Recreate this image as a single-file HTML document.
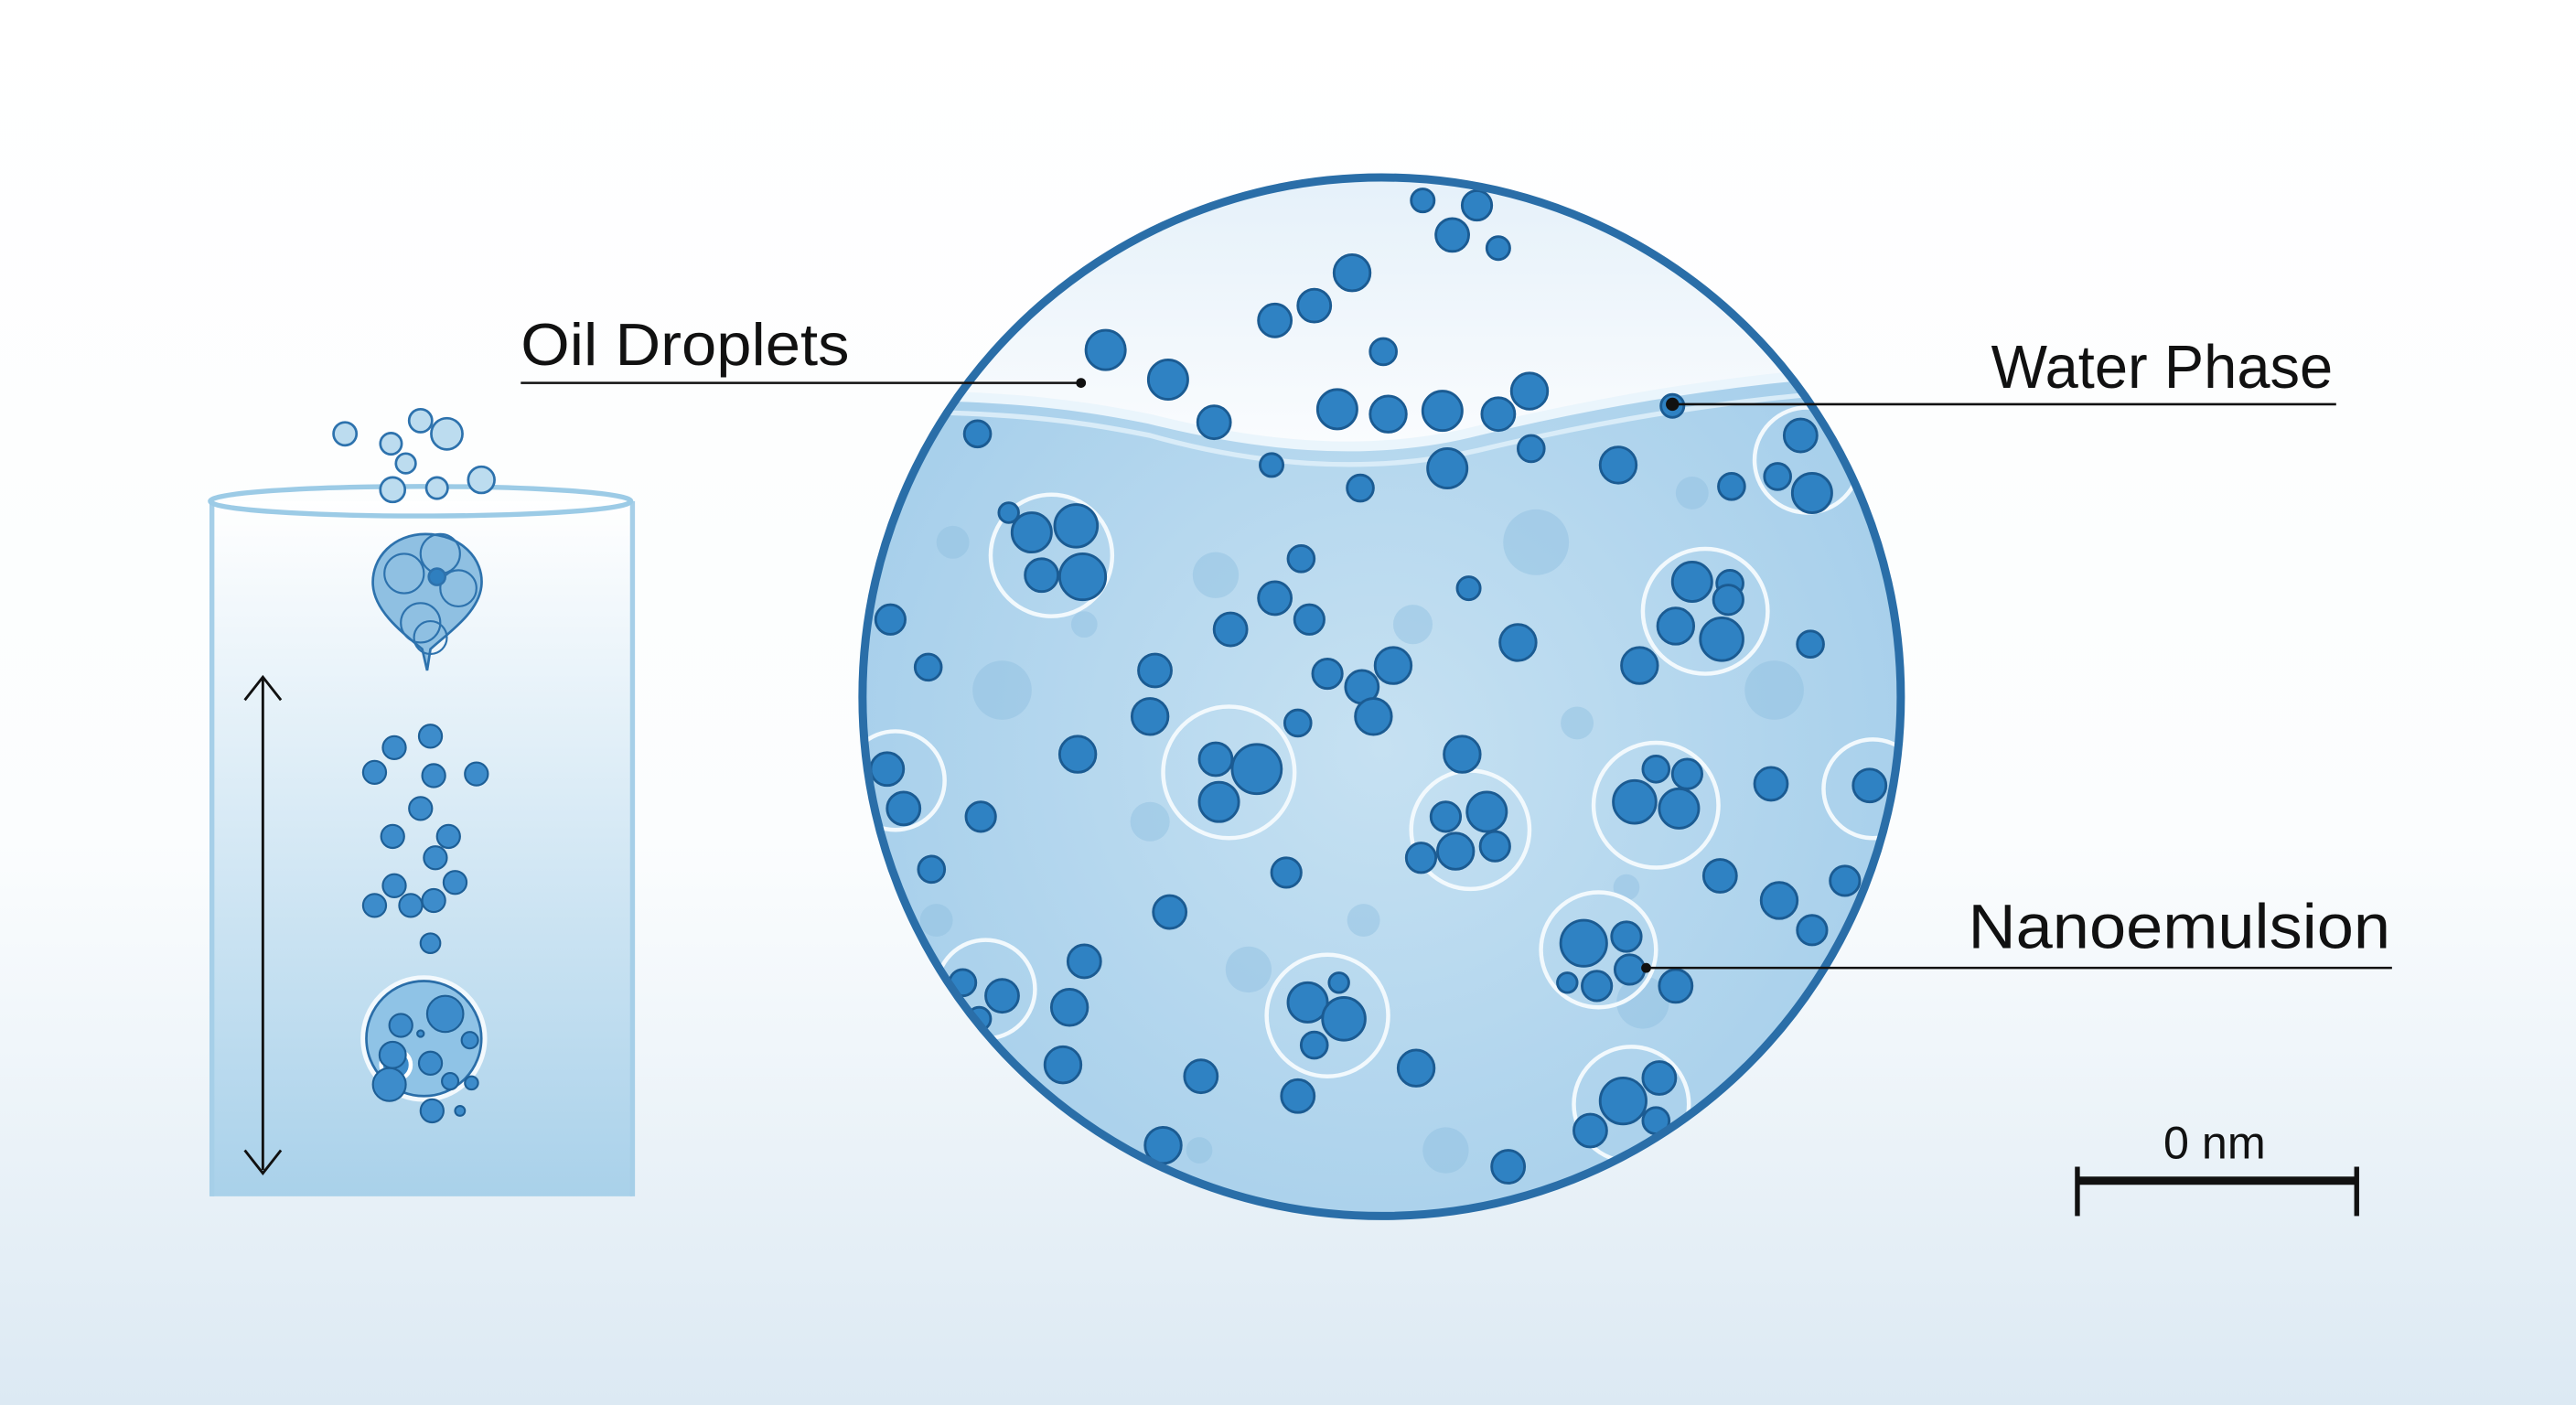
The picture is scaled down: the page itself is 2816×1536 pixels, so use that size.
<!DOCTYPE html>
<html><head><meta charset="utf-8">
<style>html,body{margin:0;padding:0;width:2816px;height:1536px;overflow:hidden;background:#fff}svg{display:block}</style>
</head><body>
<svg width="2816" height="1536" viewBox="0 0 1568 855" preserveAspectRatio="none" xmlns="http://www.w3.org/2000/svg">
<defs>
<linearGradient id="bg" x1="0" y1="0" x2="0" y2="1">
<stop offset="0" stop-color="#ffffff"/><stop offset="0.6" stop-color="#fbfdfe"/><stop offset="1" stop-color="#dce9f3"/></linearGradient>
<linearGradient id="cyl" x1="0" y1="0" x2="0" y2="1">
<stop offset="0" stop-color="#ffffff"/><stop offset="1" stop-color="#a9d1ea"/></linearGradient>
<radialGradient id="water" cx="0.5" cy="0.55" r="0.6">
<stop offset="0" stop-color="#c6e1f2"/><stop offset="1" stop-color="#a3cdea"/></radialGradient>
<linearGradient id="top" x1="0" y1="0" x2="0" y2="1">
<stop offset="0" stop-color="#e4f0f9"/><stop offset="1" stop-color="#fafcfe"/></linearGradient>
<clipPath id="cc"><circle cx="841" cy="424" r="316"/></clipPath>
</defs>
<rect width="1568" height="855" fill="url(#bg)"/>

<!-- cylinder -->
<rect x="128" y="305" width="257" height="423" fill="url(#cyl)"/>
<line x1="129" y1="305" x2="129" y2="728" stroke="#a6cfe8" stroke-width="3"/>
<line x1="385" y1="305" x2="385" y2="728" stroke="#a6cfe8" stroke-width="3"/>
<ellipse cx="256" cy="305" rx="128" ry="9" fill="none" stroke="#9ccbe6" stroke-width="3"/>
<line x1="160" y1="412" x2="160" y2="712" stroke="#111" stroke-width="1.6"/>
<polyline points="149,426 160,412 171,426" fill="none" stroke="#111" stroke-width="1.6"/>
<polyline points="149,700 160,714 171,700" fill="none" stroke="#111" stroke-width="1.6"/>
<g fill="#bcdcef" stroke="#2d72ad" stroke-width="1.5">
<circle cx="210" cy="264" r="7"/><circle cx="238" cy="270" r="6.5"/><circle cx="247" cy="282" r="6"/><circle cx="256" cy="256" r="7"/><circle cx="272" cy="264" r="9.5"/><circle cx="266" cy="297" r="6.5"/><circle cx="239" cy="298" r="7.5"/><circle cx="293" cy="292" r="8"/>
<path d="M259,325 C280,325 295,340 293,357 C291,373 273,385 262,395 L260,408 L257,395 C245,385 228,372 227,356 C226,339 240,325 259,325 Z" fill="#8fc0e2"/>
<g fill="none" stroke-width="1.2"><circle cx="246" cy="349" r="12"/><circle cx="268" cy="337" r="12"/><circle cx="279" cy="358" r="11"/><circle cx="256" cy="379" r="12"/><circle cx="262" cy="388" r="10"/></g><circle cx="266" cy="351" r="5" fill="#2f7fbf"/>
</g>
<circle cx="258" cy="632" r="37" fill="#8fc3e6" stroke="#f3f9fd" stroke-width="3"/>
<circle cx="258" cy="632" r="35" fill="none" stroke="#2b6ea8" stroke-width="1.5"/>
<g stroke="#1e5f96" stroke-width="1.2" fill="#3d8ccb">
<circle cx="241" cy="648" r="9" stroke="#fff" stroke-width="2.5"/>
<circle cx="262" cy="448" r="7"/><circle cx="240" cy="455" r="7"/><circle cx="290" cy="471" r="7"/><circle cx="228" cy="470" r="7"/><circle cx="264" cy="472" r="7"/><circle cx="256" cy="492" r="7"/><circle cx="239" cy="509" r="7"/><circle cx="273" cy="509" r="7"/><circle cx="265" cy="522" r="7"/><circle cx="240" cy="539" r="7"/><circle cx="277" cy="537" r="7"/><circle cx="228" cy="551" r="7"/><circle cx="250" cy="551" r="7"/><circle cx="264" cy="548" r="7"/><circle cx="262" cy="574" r="6"/>
<circle cx="244" cy="624" r="7"/><circle cx="271" cy="617" r="11"/><circle cx="239" cy="642" r="8"/><circle cx="262" cy="647" r="7"/><circle cx="237" cy="660" r="10"/><circle cx="263" cy="676" r="7"/><circle cx="286" cy="633" r="5"/><circle cx="287" cy="659" r="4"/><circle cx="274" cy="658" r="5"/><circle cx="280" cy="676" r="3"/><circle cx="256" cy="629" r="2"/></g>

<!-- big circle -->
<circle cx="841" cy="424" r="316" fill="url(#water)"/>
<g clip-path="url(#cc)">
<path d="M500,100 L1200,100 L1200,225 C1110,222 1000,238 900,262 C830,280 760,270 700,255 C650,245 610,240 500,240 Z" fill="url(#top)"/>
<path d="M500,240 C610,240 650,245 700,255 C760,270 830,280 900,262 C1000,238 1110,222 1200,225" fill="none" stroke="#eaf5fc" stroke-width="6"/>
<path d="M500,250 C610,250 650,255 700,265 C760,282 830,290 900,274 C1000,250 1110,234 1200,237" fill="none" stroke="#d9ecf8" stroke-width="3"/>
<g fill="#8fbfe0" opacity="0.45">
<circle cx="610" cy="420" r="18"/><circle cx="740" cy="350" r="14"/><circle cx="700" cy="500" r="12"/><circle cx="935" cy="330" r="20"/><circle cx="1000" cy="610" r="16"/><circle cx="760" cy="590" r="14"/><circle cx="1080" cy="420" r="18"/><circle cx="880" cy="700" r="14"/><circle cx="620" cy="680" r="16"/><circle cx="960" cy="440" r="10"/><circle cx="830" cy="560" r="10"/><circle cx="570" cy="560" r="10"/><circle cx="1120" cy="620" r="14"/><circle cx="990" cy="540" r="8"/><circle cx="860" cy="380" r="12"/><circle cx="660" cy="380" r="8"/><circle cx="730" cy="700" r="8"/><circle cx="1030" cy="300" r="10"/><circle cx="580" cy="330" r="10"/></g>
<g fill="none" stroke="#f2f9fd" stroke-width="2.5">
<circle cx="640" cy="338" r="37"/><circle cx="1038" cy="372" r="38"/><circle cx="748" cy="470" r="40"/><circle cx="895" cy="505" r="36"/><circle cx="1008" cy="490" r="38"/><circle cx="973" cy="578" r="35"/><circle cx="808" cy="618" r="37"/><circle cx="993" cy="672" r="35"/><circle cx="545" cy="475" r="30"/><circle cx="600" cy="602" r="30"/><circle cx="1100" cy="280" r="32"/><circle cx="1140" cy="480" r="30"/></g>
<g fill="#2f82c3" stroke="#1b5b92" stroke-width="1.6" style="paint-order:normal">
<g id="drops">
<circle cx="866" cy="122" r="7"/><circle cx="899" cy="125" r="9"/><circle cx="884" cy="143" r="10"/><circle cx="912" cy="151" r="7"/><circle cx="823" cy="166" r="11"/><circle cx="800" cy="186" r="10"/><circle cx="776" cy="195" r="10"/><circle cx="842" cy="214" r="8"/><circle cx="673" cy="213" r="12"/><circle cx="711" cy="231" r="12"/><circle cx="739" cy="257" r="10"/><circle cx="814" cy="249" r="12"/><circle cx="845" cy="252" r="11"/><circle cx="878" cy="250" r="12"/><circle cx="912" cy="252" r="10"/><circle cx="931" cy="238" r="11"/><circle cx="1018" cy="247" r="7"/>
<circle cx="774" cy="283" r="7"/><circle cx="828" cy="297" r="8"/><circle cx="881" cy="285" r="12"/><circle cx="932" cy="273" r="8"/><circle cx="985" cy="283" r="11"/><circle cx="595" cy="264" r="8"/><circle cx="1054" cy="296" r="8"/><circle cx="792" cy="340" r="8"/><circle cx="776" cy="364" r="10"/><circle cx="797" cy="377" r="9"/><circle cx="749" cy="383" r="10"/><circle cx="894" cy="358" r="7"/><circle cx="924" cy="391" r="11"/><circle cx="703" cy="408" r="10"/><circle cx="808" cy="410" r="9"/><circle cx="829" cy="418" r="10"/><circle cx="848" cy="405" r="11"/><circle cx="836" cy="436" r="11"/><circle cx="790" cy="440" r="8"/><circle cx="700" cy="436" r="11"/><circle cx="656" cy="459" r="11"/><circle cx="597" cy="497" r="9"/><circle cx="565" cy="406" r="8"/><circle cx="542" cy="377" r="9"/><circle cx="998" cy="405" r="11"/><circle cx="1027" cy="471" r="9"/><circle cx="1102" cy="392" r="8"/><circle cx="1078" cy="477" r="10"/><circle cx="1047" cy="533" r="10"/><circle cx="1083" cy="548" r="11"/><circle cx="1103" cy="566" r="9"/><circle cx="1123" cy="536" r="9"/><circle cx="1020" cy="600" r="10"/><circle cx="890" cy="459" r="11"/><circle cx="865" cy="522" r="9"/><circle cx="862" cy="650" r="11"/><circle cx="918" cy="710" r="10"/><circle cx="712" cy="555" r="10"/><circle cx="783" cy="531" r="9"/><circle cx="790" cy="667" r="10"/><circle cx="731" cy="655" r="10"/><circle cx="660" cy="585" r="10"/><circle cx="651" cy="613" r="11"/><circle cx="647" cy="648" r="11"/><circle cx="708" cy="697" r="11"/><circle cx="567" cy="529" r="8"/><circle cx="1138" cy="478" r="10"/><circle cx="1053" cy="355" r="8"/>
<circle cx="628" cy="324" r="12"/><circle cx="655" cy="320" r="13"/><circle cx="634" cy="350" r="10"/><circle cx="659" cy="351" r="14"/><circle cx="614" cy="312" r="6"/>
<circle cx="1030" cy="354" r="12"/><circle cx="1052" cy="365" r="9"/><circle cx="1020" cy="381" r="11"/><circle cx="1048" cy="389" r="13"/>
<circle cx="740" cy="462" r="10"/><circle cx="765" cy="468" r="15"/><circle cx="742" cy="488" r="12"/>
<circle cx="880" cy="497" r="9"/><circle cx="905" cy="494" r="12"/><circle cx="886" cy="518" r="11"/><circle cx="910" cy="515" r="9"/>
<circle cx="995" cy="488" r="13"/><circle cx="1022" cy="492" r="12"/><circle cx="1008" cy="468" r="8"/>
<circle cx="964" cy="574" r="14"/><circle cx="990" cy="570" r="9"/><circle cx="992" cy="590" r="9"/><circle cx="972" cy="600" r="9"/><circle cx="954" cy="598" r="6"/>
<circle cx="796" cy="610" r="12"/><circle cx="818" cy="620" r="13"/><circle cx="800" cy="636" r="8"/><circle cx="815" cy="598" r="6"/>
<circle cx="988" cy="670" r="14"/><circle cx="1010" cy="656" r="10"/><circle cx="968" cy="688" r="10"/><circle cx="1008" cy="682" r="8"/>
<circle cx="540" cy="468" r="10"/><circle cx="550" cy="492" r="10"/>
<circle cx="586" cy="598" r="8"/><circle cx="610" cy="606" r="10"/><circle cx="596" cy="620" r="7"/>
<circle cx="1096" cy="265" r="10"/><circle cx="1103" cy="300" r="12"/><circle cx="1082" cy="290" r="8"/>
</g></g>
</g>
<circle cx="841" cy="424" r="316" fill="none" stroke="#2a6ea8" stroke-width="5"/>

<!-- labels -->
<g font-family="Liberation Sans, sans-serif" fill="#111">
<text x="317" y="222" font-size="36" textLength="200" lengthAdjust="spacingAndGlyphs">Oil Droplets</text>
<text x="1212" y="236" font-size="37" textLength="208" lengthAdjust="spacingAndGlyphs">Water Phase</text>
<text x="1198" y="577" font-size="38" textLength="257" lengthAdjust="spacingAndGlyphs">Nanoemulsion</text>
<text x="1348" y="705" font-size="28" text-anchor="middle">0 nm</text>
</g>
<g stroke="#111" stroke-width="1.4">
<line x1="317" y1="233" x2="658" y2="233"/>
<line x1="1018" y1="246" x2="1422" y2="246"/>
<line x1="1002" y1="589" x2="1456" y2="589"/>
</g>
<circle cx="658" cy="233" r="3" fill="#111"/><circle cx="1018" cy="246" r="4" fill="#111"/><circle cx="1002" cy="589" r="3" fill="#111"/>
<rect x="1264" y="716" width="171" height="5" fill="#111"/>
<rect x="1263" y="710" width="3" height="30" fill="#111"/>
<rect x="1433" y="710" width="3" height="30" fill="#111"/>
</svg>
</body></html>
